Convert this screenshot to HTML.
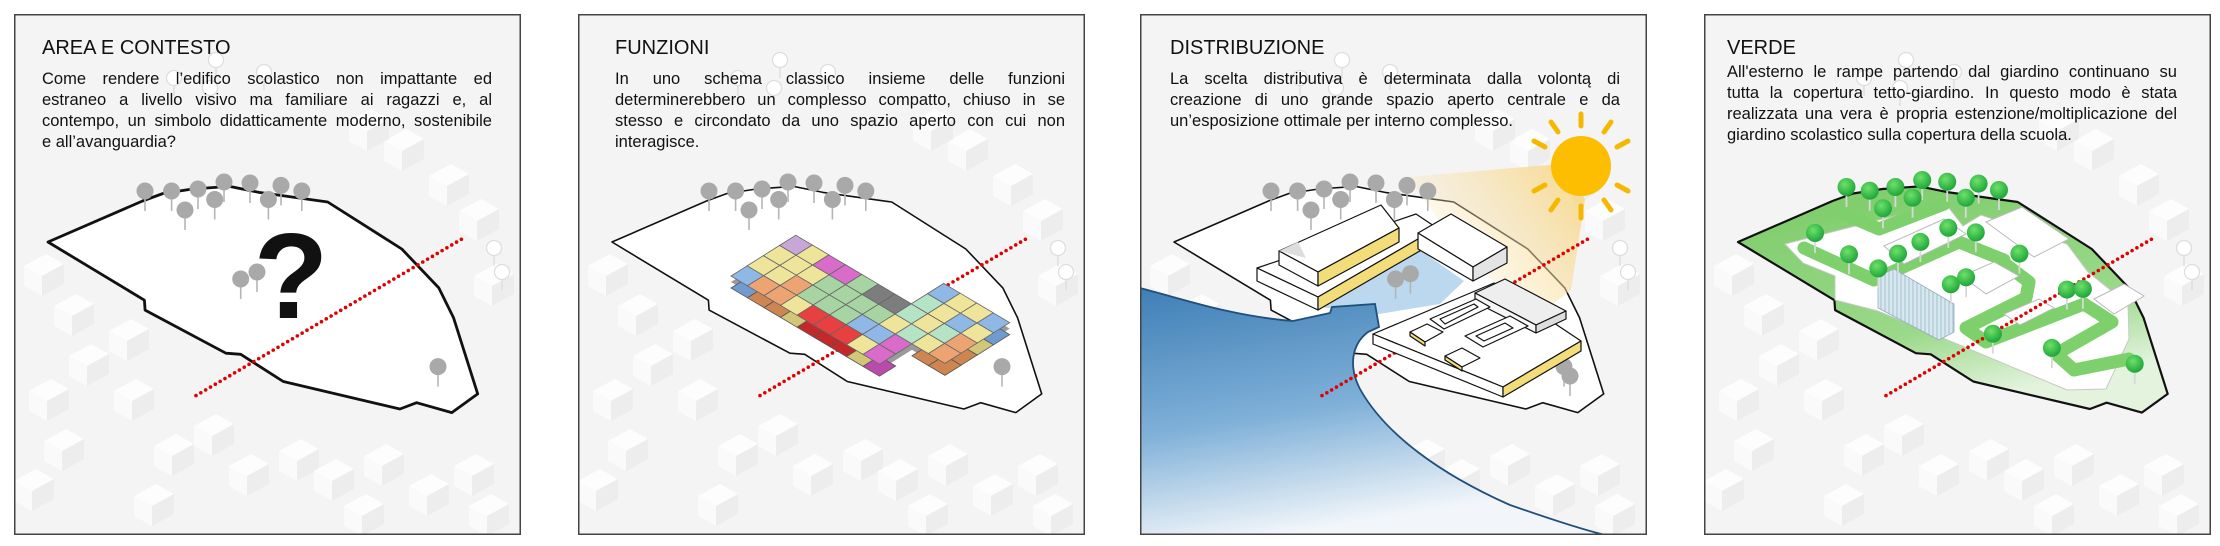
<!DOCTYPE html>
<html><head><meta charset="utf-8">
<style>
html,body{margin:0;padding:0;background:#fff;}
body{width:2220px;height:546px;position:relative;overflow:hidden;font-family:"Liberation Sans",Arial,sans-serif;color:#111;}
.p{position:absolute;top:14px;width:507px;height:521px;}
.p svg{position:absolute;left:0;top:0;}
.h{position:absolute;font-size:20px;line-height:24px;white-space:nowrap;color:#111;}
.b{position:absolute;width:450px;font-size:16.5px;line-height:21px;color:#111;}
.b div{white-space:nowrap;text-align:justify;text-align-last:justify;height:21px;}
.b div.e{text-align-last:left;}
</style></head><body>
<svg width="0" height="0" style="position:absolute">
<defs>
<symbol id="hs" overflow="visible">
<polygon points="0,12 22,0 40,10 18,22" fill="#fdfdfd"/>
<polygon points="0,12 18,22 18,42 0,32" fill="#fafafa"/>
<polygon points="18,22 40,10 40,30 18,42" fill="#ededed"/>
</symbol>
<symbol id="tg" overflow="visible"><line x1="0" y1="6" x2="0" y2="20" stroke="#b5b5b5" stroke-width="1.6"/><circle r="8.5" fill="#a9a9a9"/></symbol>
<symbol id="tw" overflow="visible"><line x1="0" y1="7" x2="0" y2="18" stroke="#ddd" stroke-width="1.4"/><circle r="7.5" fill="#fff" stroke="#ddd" stroke-width="1.2"/></symbol>
<radialGradient id="gg" cx="0.4" cy="0.35" r="0.7"><stop offset="0" stop-color="#6fe06a"/><stop offset="1" stop-color="#18a236"/></radialGradient>
<symbol id="tgr" overflow="visible"><line x1="0" y1="6" x2="0" y2="20" stroke="#d8d8d8" stroke-width="1.8"/><circle r="9" fill="url(#gg)"/></symbol>
<linearGradient id="wg" x1="0" y1="0" x2="0.3" y2="1"><stop offset="0" stop-color="#3f7fb6"/><stop offset="0.55" stop-color="#7fb0d8"/><stop offset="1" stop-color="#f2f6fa"/></linearGradient>
<linearGradient id="cone" x1="1" y1="0" x2="0" y2="0.6"><stop offset="0" stop-color="#f7d27a" stop-opacity="0.9"/><stop offset="1" stop-color="#fbeac0" stop-opacity="0.1"/></linearGradient>
<linearGradient id="grn" x1="0" y1="0" x2="0.4" y2="1"><stop offset="0" stop-color="#7acb66"/><stop offset="0.7" stop-color="#9ad98a"/><stop offset="1" stop-color="#e3f3dd"/></linearGradient>
<pattern id="stripe" width="4" height="10" patternUnits="userSpaceOnUse"><rect width="4" height="10" fill="#d9e8ef"/><line x1="1" y1="0" x2="1" y2="10" stroke="#9fbfcd" stroke-width="1"/></pattern>
<g id="bgp">
<rect x="0" y="0" width="507" height="521" fill="#f4f4f4"/>
<use href="#hs" x="10" y="240"/><use href="#hs" x="40" y="280"/><use href="#hs" x="95" y="305"/>
<use href="#hs" x="55" y="330"/><use href="#hs" x="15" y="365"/><use href="#hs" x="100" y="365"/>
<use href="#hs" x="30" y="415"/><use href="#hs" x="0" y="455"/><use href="#hs" x="140" y="420"/>
<use href="#hs" x="180" y="400"/><use href="#hs" x="215" y="440"/><use href="#hs" x="265" y="425"/>
<use href="#hs" x="300" y="445"/><use href="#hs" x="350" y="430"/><use href="#hs" x="395" y="460"/>
<use href="#hs" x="440" y="440"/><use href="#hs" x="455" y="480"/><use href="#hs" x="120" y="470"/>
<use href="#hs" x="330" y="480"/><use href="#hs" x="370" y="115"/><use href="#hs" x="415" y="150"/>
<use href="#hs" x="445" y="185"/><use href="#hs" x="335" y="95"/><use href="#hs" x="460" y="250"/>
<use href="#tw" x="202" y="46"/><use href="#tw" x="250" y="58"/><use href="#tw" x="160" y="64"/><use href="#tw" x="196" y="74"/>
<use href="#tw" x="480" y="234"/><use href="#tw" x="488" y="258"/>
</g>
<polygon id="outl" points="34,228 128.5,187 149,179.5 178.5,175 215.5,172.4 245,178.4 313.7,188 387.8,235 424.8,273.9 439.6,303.9 463.7,379.9 437.8,398.6 402.6,388.7 385.9,395 269.3,367.5 226.7,340.3 211.9,339.2 131.1,296.1 130.4,286.2"/>
<g id="trees"><use href="#tg" x="131" y="177"/><use href="#tg" x="157.6" y="177"/><use href="#tg" x="184" y="175"/><use href="#tg" x="210" y="168"/><use href="#tg" x="236" y="169"/><use href="#tg" x="267" y="171.4"/><use href="#tg" x="287.8" y="177"/><use href="#tg" x="171" y="196"/><use href="#tg" x="200.7" y="185.5"/><use href="#tg" x="254.4" y="185.5"/><use href="#tg" x="424" y="352.6"/></g>
<line id="red" x1="182" y1="381.6" x2="450.7" y2="223.3" stroke="#e00000" stroke-width="3.6" stroke-linecap="round" stroke-dasharray="0 5.6"/>
</defs>
</svg>

<!-- PANEL 1 -->
<div class="p" style="left:14px">
<svg width="507" height="521" viewBox="0 0 507 521">
<use href="#bgp"/>
<use href="#outl" fill="#fff" stroke="#111" stroke-width="2.8" stroke-linejoin="round"/>
<use href="#trees"/>
<use href="#tg" x="226.7" y="265"/><use href="#tg" x="243" y="258"/>
<text x="277" y="304" font-family="Liberation Sans, sans-serif" font-weight="bold" font-size="122" text-anchor="middle" fill="#111">?</text>
<use href="#red"/>
<rect x="0.75" y="0.75" width="505.5" height="519.5" fill="none" stroke="#444" stroke-width="1.5"/>
</svg>
</div>
<div class="h" style="left:42px;top:36px">AREA E CONTESTO</div>
<div class="b" style="left:42px;top:69px">
<div>Come rendere l’edifico scolastico non impattante ed</div>
<div>estraneo a livello visivo ma familiare ai ragazzi e, al</div>
<div>contempo, un simbolo didatticamente moderno, sostenibile</div>
<div class="e">e all’avanguardia?</div>
</div>

<!-- PANEL 2 -->
<div class="p" style="left:578px">
<svg width="507" height="521" viewBox="0 0 507 521">
<use href="#bgp"/>
<use href="#outl" fill="#fff" stroke="#111" stroke-width="1.6" stroke-linejoin="round"/>
<use href="#trees"/>
<use href="#red"/>
<g transform="translate(0,6) matrix(16.5,9.8,16.2,-10.2,153,262)" stroke="none">
<rect x="0" y="0" width="9" height="4" fill="#9a9a9a"/>
<rect x="7" y="2" width="4" height="4" fill="#9a9a9a"/>
</g>
<g transform="translate(0,12) matrix(16.5,9.8,16.2,-10.2,153,262)" stroke="#555" stroke-width="0.8">
<rect vector-effect="non-scaling-stroke" x="0" y="0" width="1" height="1" fill="#6f9bcf"/><rect vector-effect="non-scaling-stroke" x="1" y="0" width="1" height="1" fill="#cf8550"/><rect vector-effect="non-scaling-stroke" x="2" y="0" width="1" height="1" fill="#cf8550"/><rect vector-effect="non-scaling-stroke" x="3" y="0" width="1" height="1" fill="#d2c678"/><rect vector-effect="non-scaling-stroke" x="4" y="0" width="1" height="1" fill="#c42828"/><rect vector-effect="non-scaling-stroke" x="5" y="0" width="1" height="1" fill="#c42828"/><rect vector-effect="non-scaling-stroke" x="6" y="0" width="1" height="1" fill="#c42828"/><rect vector-effect="non-scaling-stroke" x="7" y="0" width="1" height="1" fill="#d2c678"/><rect vector-effect="non-scaling-stroke" x="8" y="0" width="1" height="1" fill="#b94cab"/>
<rect vector-effect="non-scaling-stroke" x="10" y="2" width="1" height="1" fill="#cf8550"/><rect vector-effect="non-scaling-stroke" x="10" y="3" width="1" height="1" fill="#cf8550"/><rect vector-effect="non-scaling-stroke" x="10" y="4" width="1" height="1" fill="#d2c678"/><rect vector-effect="non-scaling-stroke" x="10" y="5" width="1" height="1" fill="#6f9bcf"/><rect vector-effect="non-scaling-stroke" x="9" y="2" width="1" height="1" fill="#cf8550"/>
</g>
<g transform="matrix(16.5,9.8,16.2,-10.2,153,262)" stroke="#666" stroke-width="0.8">
<rect vector-effect="non-scaling-stroke" x="0" y="0" width="1" height="1" fill="#8fb8e6"/><rect vector-effect="non-scaling-stroke" x="0" y="1" width="1" height="1" fill="#efe59a"/><rect vector-effect="non-scaling-stroke" x="0" y="2" width="1" height="1" fill="#efe59a"/><rect vector-effect="non-scaling-stroke" x="0" y="3" width="1" height="1" fill="#c9a6d8"/>
<rect vector-effect="non-scaling-stroke" x="1" y="0" width="1" height="1" fill="#eda472"/><rect vector-effect="non-scaling-stroke" x="1" y="1" width="1" height="1" fill="#efe59a"/><rect vector-effect="non-scaling-stroke" x="1" y="2" width="1" height="1" fill="#efe59a"/><rect vector-effect="non-scaling-stroke" x="1" y="3" width="1" height="1" fill="#efe59a"/>
<rect vector-effect="non-scaling-stroke" x="2" y="0" width="1" height="1" fill="#eda472"/><rect vector-effect="non-scaling-stroke" x="2" y="1" width="1" height="1" fill="#eda472"/><rect vector-effect="non-scaling-stroke" x="2" y="2" width="1" height="1" fill="#efe59a"/><rect vector-effect="non-scaling-stroke" x="2" y="3" width="1" height="1" fill="#d96bc9"/>
<rect vector-effect="non-scaling-stroke" x="3" y="0" width="1" height="1" fill="#efe59a"/><rect vector-effect="non-scaling-stroke" x="3" y="1" width="1" height="1" fill="#a8d4a4"/><rect vector-effect="non-scaling-stroke" x="3" y="2" width="1" height="1" fill="#a8d4a4"/><rect vector-effect="non-scaling-stroke" x="3" y="3" width="1" height="1" fill="#d96bc9"/>
<rect vector-effect="non-scaling-stroke" x="4" y="0" width="1" height="1" fill="#e84040"/><rect vector-effect="non-scaling-stroke" x="4" y="1" width="1" height="1" fill="#a8d4a4"/><rect vector-effect="non-scaling-stroke" x="4" y="2" width="1" height="1" fill="#a8d4a4"/><rect vector-effect="non-scaling-stroke" x="4" y="3" width="1" height="1" fill="#a8d4a4"/>
<rect vector-effect="non-scaling-stroke" x="5" y="0" width="1" height="1" fill="#e84040"/><rect vector-effect="non-scaling-stroke" x="5" y="1" width="1" height="1" fill="#a8d4a4"/><rect vector-effect="non-scaling-stroke" x="5" y="2" width="1" height="1" fill="#a8d4a4"/><rect vector-effect="non-scaling-stroke" x="5" y="3" width="1" height="1" fill="#7d7d7d"/>
<rect vector-effect="non-scaling-stroke" x="6" y="0" width="1" height="1" fill="#e84040"/><rect vector-effect="non-scaling-stroke" x="6" y="1" width="1" height="1" fill="#8fb8e6"/><rect vector-effect="non-scaling-stroke" x="6" y="2" width="1" height="1" fill="#a8d4a4"/><rect vector-effect="non-scaling-stroke" x="6" y="3" width="1" height="1" fill="#7d7d7d"/>
<rect vector-effect="non-scaling-stroke" x="7" y="0" width="1" height="1" fill="#efe59a"/><rect vector-effect="non-scaling-stroke" x="7" y="1" width="1" height="1" fill="#8fb8e6"/><rect vector-effect="non-scaling-stroke" x="7" y="2" width="1" height="1" fill="#efe59a"/><rect vector-effect="non-scaling-stroke" x="7" y="3" width="1" height="1" fill="#b5e3c5"/><rect vector-effect="non-scaling-stroke" x="7" y="4" width="1" height="1" fill="#b5e3c5"/><rect vector-effect="non-scaling-stroke" x="7" y="5" width="1" height="1" fill="#8fb8e6"/>
<rect vector-effect="non-scaling-stroke" x="8" y="0" width="1" height="1" fill="#d96bc9"/><rect vector-effect="non-scaling-stroke" x="8" y="1" width="1" height="1" fill="#d96bc9"/><rect vector-effect="non-scaling-stroke" x="8" y="2" width="1" height="1" fill="#b5e3c5"/><rect vector-effect="non-scaling-stroke" x="8" y="3" width="1" height="1" fill="#efe59a"/><rect vector-effect="non-scaling-stroke" x="8" y="4" width="1" height="1" fill="#efe59a"/><rect vector-effect="non-scaling-stroke" x="8" y="5" width="1" height="1" fill="#efe59a"/>
<rect vector-effect="non-scaling-stroke" x="9" y="2" width="1" height="1" fill="#efe59a"/><rect vector-effect="non-scaling-stroke" x="9" y="3" width="1" height="1" fill="#b5e3c5"/><rect vector-effect="non-scaling-stroke" x="9" y="4" width="1" height="1" fill="#8fb8e6"/><rect vector-effect="non-scaling-stroke" x="9" y="5" width="1" height="1" fill="#efe59a"/>
<rect vector-effect="non-scaling-stroke" x="10" y="2" width="1" height="1" fill="#eda472"/><rect vector-effect="non-scaling-stroke" x="10" y="3" width="1" height="1" fill="#eda472"/><rect vector-effect="non-scaling-stroke" x="10" y="4" width="1" height="1" fill="#efe59a"/><rect vector-effect="non-scaling-stroke" x="10" y="5" width="1" height="1" fill="#8fb8e6"/>
</g>
<rect x="0.75" y="0.75" width="505.5" height="519.5" fill="none" stroke="#444" stroke-width="1.5"/>
</svg>
</div>
<div class="h" style="left:615px;top:36px">FUNZIONI</div>
<div class="b" style="left:615px;top:69px">
<div>In uno schema classico insieme delle funzioni</div>
<div>determinerebbero un complesso compatto, chiuso in se</div>
<div>stesso e circondato da uno spazio aperto con cui non</div>
<div class="e">interagisce.</div>
</div>

<!-- PANEL 3 -->
<div class="p" style="left:1140px">
<svg width="507" height="521" viewBox="0 0 507 521">
<use href="#bgp"/>
<use href="#outl" fill="#fff" stroke="#111" stroke-width="1.6" stroke-linejoin="round"/>
<polygon points="268,163 420,150 445,185 431,276 400,300 330,250" fill="url(#cone)"/>
<use href="#trees"/>
<polygon points="180,293 276,233 324,267 300,290 239,300" fill="#bcd8ee"/>
<use href="#tg" x="255.6" y="265"/><use href="#tg" x="270.4" y="259.7"/>
<path d="M0,274 C40,284 90,302 153,307 L190,299 L192,293 L235,290 L239,313 L228,318 C212,330 208,352 220,375 C245,420 300,460 370,491 C410,505 440,515 465,521 L0,521 Z" fill="url(#wg)"/>
<path d="M0,274 C40,284 90,302 153,307 L190,299 L192,293 L235,290 L239,313 L228,318 C212,330 208,352 220,375 C245,420 300,460 370,491 C410,505 440,515 465,521" fill="none" stroke="#1f4f7a" stroke-width="1.8"/>
<use href="#red"/>
<g stroke="#111" stroke-width="1.2" stroke-linejoin="round">
<polygon points="117,254 276,200 297,214 178,283" fill="#fff"/>
<polygon points="117,254 178,283 178,296 117,267" fill="#fff"/>
<polygon points="178,283 297,214 297,227 178,296" fill="#f3dc7a"/>
<polygon points="139,237 241,191 259,214 178,258" fill="#fff"/>
<polygon points="139,237 178,258 178,272 139,251" fill="#fff"/>
<polygon points="178,258 259,214 259,228 178,272" fill="#f3dc7a"/>
<polygon points="139,237 158,228 166,244" fill="#ddd" stroke="none"/>
<polygon points="278,219 311,200 367,233 333,253" fill="#fff"/>
<polygon points="278,219 333,253 333,267 278,235" fill="#fff"/>
<polygon points="333,253 367,233 367,249 333,267" fill="#e4e4e4"/>
<polygon points="233,320 354,269 441,327 363,373" fill="#fff"/>
<polygon points="233,320 363,373 363,383 233,330" fill="#fff"/>
<polygon points="363,373 441,327 441,337 363,383" fill="#f3dc7a"/>
<polygon points="335,279 365,265 426,297 396,311" fill="#eee"/>
<polygon points="335,279 396,311 396,319 335,288" fill="#f6f6f6"/>
<polygon points="396,311 426,297 426,305 396,319" fill="#ddd"/>
<polygon points="290,305 336,285 350,293 304,315" fill="#fff"/>
<polygon points="300,305 334,290 338,293 305,310" fill="#fff"/>
<polygon points="270,318 287,310 303,318 285,328" fill="#fff"/>
<polygon points="270,318 285,328 285,332 270,322" fill="#f3dc7a"/>
<polygon points="325,322 370,302 388,312 343,333" fill="#fff"/>
<polygon points="336,322 365,309 373,314 344,327" fill="#fff"/>
<polygon points="305,342 322,334 340,344 322,353" fill="#fff"/>
<polygon points="305,342 322,353 322,357 305,346" fill="#f3dc7a"/>
</g>
<use href="#tg" x="430" y="362"/>
<g stroke="#f5b800" stroke-width="5" stroke-linecap="round">
<line x1="441" y1="112" x2="441" y2="100"/><line x1="441" y1="192" x2="441" y2="204"/>
<line x1="405" y1="133" x2="394" y2="127"/><line x1="477" y1="133" x2="488" y2="127"/>
<line x1="405" y1="171" x2="394" y2="177"/><line x1="477" y1="171" x2="488" y2="177"/>
<line x1="418" y1="118" x2="411" y2="108"/><line x1="464" y1="118" x2="471" y2="108"/>
<line x1="418" y1="186" x2="411" y2="196"/><line x1="464" y1="186" x2="471" y2="196"/>
</g>
<circle cx="441" cy="152" r="30" fill="#fdbd00"/>
<rect x="0.75" y="0.75" width="505.5" height="519.5" fill="none" stroke="#444" stroke-width="1.5"/>
</svg>
</div>
<div class="h" style="left:1170px;top:36px">DISTRIBUZIONE</div>
<div class="b" style="left:1170px;top:69px">
<div>La scelta distributiva è determinata dalla volontą di</div>
<div>creazione di uno grande spazio aperto centrale e da</div>
<div class="e">un’esposizione ottimale per interno complesso.</div>
</div>

<!-- PANEL 4 -->
<div class="p" style="left:1704px">
<svg width="507" height="521" viewBox="0 0 507 521">
<use href="#bgp"/>
<use href="#outl" fill="url(#grn)" stroke="#111" stroke-width="2.2" stroke-linejoin="round"/>
<polygon points="81,230 241,189 259,212 277,201 363,230 384,258 424,290 425,325 402,375 363,376 234,322 174,297 131,286 131,262 99,249" fill="#fff" stroke="#c8c8c8" stroke-width="1"/>
<g fill="none" stroke="#7dd06b" stroke-width="13" stroke-linejoin="round" stroke-linecap="round">
<path d="M100,234 L170,266 L255,228 L300,246"/>
<path d="M304,252 L325,268 L322,284 L262,314 L282,328 L380,290 L408,308 L352,340 L370,356 L425,345"/>
<path d="M140,200 L175,215 L240,190"/>
</g>
<g fill="#fff" stroke="#bbb" stroke-width="1">
<polygon points="180,232 240,205 262,220 200,250"/>
<polygon points="282,208 318,193 365,225 330,243"/>
<polygon points="258,262 290,248 315,262 282,280"/>
<polygon points="300,300 335,285 350,294 316,311"/>
<polygon points="390,285 420,270 440,282 410,300"/>
</g>
<polygon points="174,262 190,255 250,290 250,318 235,326 174,294" fill="url(#stripe)" stroke="#9ab" stroke-width="0.8"/>
<use href="#red"/>
<g>
<use href="#tgr" x="142.5" y="173"/><use href="#tgr" x="165.7" y="176.7"/><use href="#tgr" x="191.4" y="173"/><use href="#tgr" x="218.2" y="166"/><use href="#tgr" x="243.2" y="167.8"/><use href="#tgr" x="274.6" y="169.6"/><use href="#tgr" x="295" y="176"/><use href="#tgr" x="179" y="194.3"/><use href="#tgr" x="208.6" y="183.7"/><use href="#tgr" x="261.8" y="183.7"/>
<use href="#tgr" x="111" y="219"/><use href="#tgr" x="145" y="240.3"/><use href="#tgr" x="174.3" y="254.4"/><use href="#tgr" x="194" y="239.6"/><use href="#tgr" x="216.4" y="227.9"/><use href="#tgr" x="244.3" y="213.8"/><use href="#tgr" x="271.8" y="218.4"/><use href="#tgr" x="315.4" y="239.6"/><use href="#tgr" x="246.8" y="270.3"/><use href="#tgr" x="262.1" y="263.3"/><use href="#tgr" x="362.9" y="275.6"/><use href="#tgr" x="378.9" y="274.9"/><use href="#tgr" x="288.9" y="319.7"/><use href="#tgr" x="347.9" y="333.9"/><use href="#tgr" x="430.7" y="349.8"/>
</g>
<rect x="0.75" y="0.75" width="505.5" height="519.5" fill="none" stroke="#444" stroke-width="1.5"/>
</svg>
</div>
<div class="h" style="left:1727px;top:36px">VERDE</div>
<div class="b" style="left:1727px;top:62px">
<div>All'esterno le rampe partendo dal giardino continuano su</div>
<div>tutta la copertura tetto-giardino. In questo modo è stata</div>
<div>realizzata una vera è propria estenzione/moltiplicazione del</div>
<div class="e">giardino scolastico sulla copertura della scuola.</div>
</div>
</body></html>
